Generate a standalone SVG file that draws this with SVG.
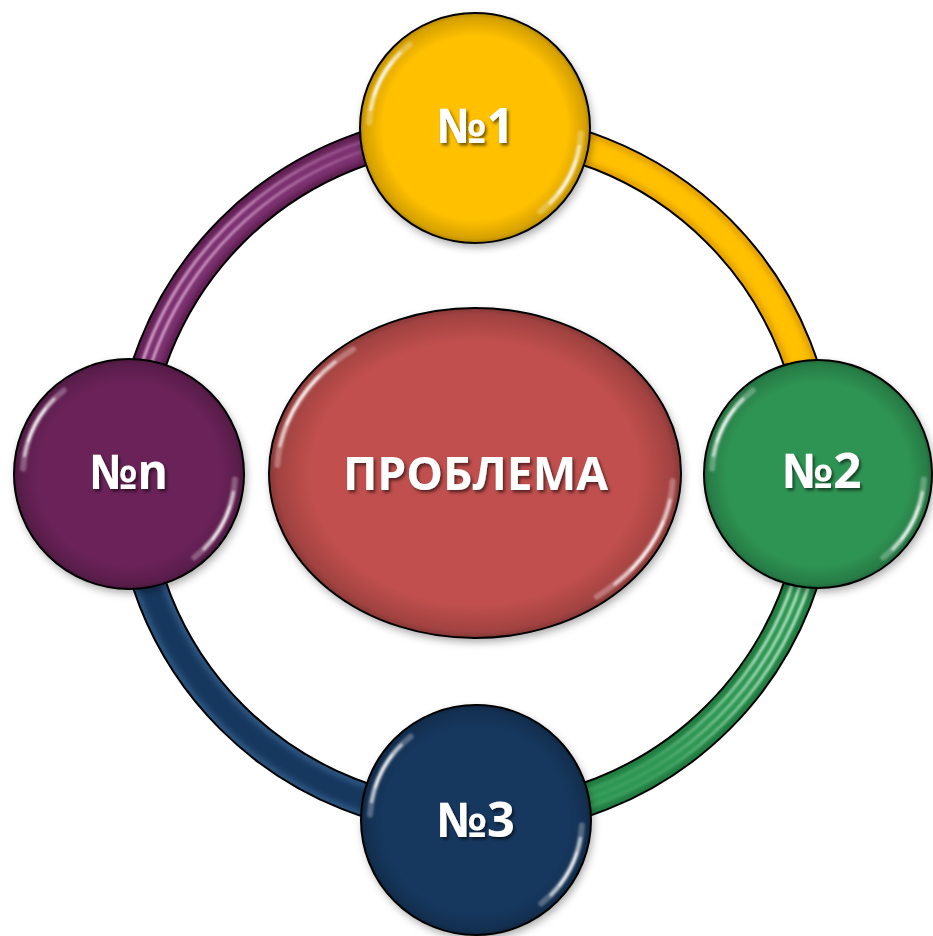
<svg xmlns="http://www.w3.org/2000/svg" width="933" height="936" viewBox="0 0 933 936">
<style>
  .outline{fill:none;stroke:#000;stroke-width:35}
  .tube{fill:none;stroke-width:31}
  .core{fill:none;stroke-width:22;filter:url(#blur2)}
  .stripe{fill:none;stroke-width:2.6;filter:url(#blur1)}
  .nodeBase{stroke:none;filter:url(#shadow)}
  .rimShade{fill:url(#rim)}
  .edge{fill:none;stroke:#000;stroke-width:2}
  .lbl{font-family:"Open Sans","Liberation Sans",sans-serif;font-weight:bold;fill:#fff;text-anchor:middle;filter:url(#tshadow)}
  .g1{fill:none;stroke:#fff;stroke-width:6;stroke-opacity:0.28;stroke-linecap:round}
  .g2{fill:none;stroke:#fff;stroke-width:3.5;stroke-opacity:0.6;stroke-linecap:round}
  .g3{fill:none;stroke:#fff;stroke-width:2;stroke-opacity:0.95;stroke-linecap:round}
</style>
<defs>
  <filter id="shadow" x="-20%" y="-20%" width="140%" height="140%">
    <feDropShadow dx="2" dy="4" stdDeviation="4" flood-color="#000" flood-opacity="0.35"/>
  </filter>
  <filter id="blur1" x="-10%" y="-10%" width="120%" height="120%"><feGaussianBlur stdDeviation="1"/></filter>
  <filter id="blur2" x="-10%" y="-10%" width="120%" height="120%"><feGaussianBlur stdDeviation="2.5"/></filter>
  <filter id="glow" x="-20%" y="-20%" width="140%" height="140%"><feGaussianBlur stdDeviation="1"/></filter>
  <filter id="tshadow" x="-20%" y="-30%" width="140%" height="160%">
    <feDropShadow dx="2" dy="2.5" stdDeviation="1.5" flood-color="#000" flood-opacity="0.55"/>
  </filter>
  <radialGradient id="rim">
    <stop offset="0.8" stop-color="#000" stop-opacity="0"/>
    <stop offset="0.96" stop-color="#000" stop-opacity="0.16"/>
    <stop offset="1" stop-color="#000" stop-opacity="0.3"/>
  </radialGradient>
  <linearGradient id="gStripe" gradientUnits="userSpaceOnUse" x1="819" y1="474" x2="475" y2="818">
    <stop offset="0" stop-color="#e6fbec" stop-opacity="1"/>
    <stop offset="0.35" stop-color="#d4f4de" stop-opacity="0.8"/>
    <stop offset="0.65" stop-color="#c0ecd0" stop-opacity="0.15"/>
    <stop offset="1" stop-color="#c0ecd0" stop-opacity="0"/>
  </linearGradient>
  <linearGradient id="pStripe" gradientUnits="userSpaceOnUse" x1="131" y1="474" x2="475" y2="130">
    <stop offset="0" stop-color="#f0c6e6" stop-opacity="0.95"/>
    <stop offset="0.5" stop-color="#e6b2da" stop-opacity="0.75"/>
    <stop offset="0.85" stop-color="#d89ccc" stop-opacity="0.2"/>
    <stop offset="1" stop-color="#d89ccc" stop-opacity="0"/>
  </linearGradient>
  <g id="gloss" filter="url(#glow)">
    <path class="g1" d="M105.9,5.5 A106,106 0 0 1 65.3,83.5"/>
    <path class="g1" d="M-105.9,-5.5 A106,106 0 0 1 -65.3,-83.5"/>
    <path class="g2" d="M104.4,18.4 A106,106 0 0 1 75,75"/>
    <path class="g2" d="M-104.4,-18.4 A106,106 0 0 1 -75,-75"/>
    <path class="g3" d="M100.8,32.8 A106,106 0 0 1 83.5,65.3"/>
    <path class="g3" d="M-100.8,-32.8 A106,106 0 0 1 -83.5,-65.3"/>
  </g>
</defs>

<rect width="933" height="936" fill="#fff"/>

<g id="connectors">
  <!-- yellow: №1 to №2 -->
  <g id="arc-1-2">
    <path class="outline" d="M475,130 A344,344 0 0 1 819,474"/>
    <path class="tube" stroke="#E3A200" d="M475,130 A344,344 0 0 1 819,474"/>
    <path class="core" stroke="#FFC000" d="M475,130 A344,344 0 0 1 819,474"/>
  </g>
  <!-- green: №2 to №3 -->
  <g id="arc-2-3">
    <path class="outline" d="M819,474 A344,344 0 0 1 475,818"/>
    <path class="tube" stroke="#1F7A3F" d="M819,474 A344,344 0 0 1 475,818"/>
    <path class="core" stroke="#2F9753" d="M819,474 A344,344 0 0 1 475,818"/>
    <path class="stripe" stroke="url(#gStripe)" d="M827,474 A352,352 0 0 1 475,826"/>
    <path class="stripe" stroke="url(#gStripe)" d="M819,474 A344,344 0 0 1 475,818"/>
    <path class="stripe" stroke="url(#gStripe)" d="M811,474 A336,336 0 0 1 475,810"/>
  </g>
  <!-- navy: №3 to №n -->
  <g id="arc-3-n">
    <path class="outline" d="M475,818 A344,344 0 0 1 131,474"/>
    <path class="tube" stroke="#2D5580" d="M475,818 A344,344 0 0 1 131,474"/>
    <path class="core" stroke="#17375E" d="M475,818 A344,344 0 0 1 131,474"/>
  </g>
  <!-- purple: №n to №1 -->
  <g id="arc-n-1">
    <path class="outline" d="M131,474 A344,344 0 0 1 475,130"/>
    <path class="tube" stroke="#5E1E50" d="M131,474 A344,344 0 0 1 475,130"/>
    <path class="core" stroke="#7B3070" d="M131,474 A344,344 0 0 1 475,130"/>
    <path class="stripe" stroke="url(#pStripe)" d="M124,474 A351,351 0 0 1 475,123"/>
    <path class="stripe" stroke="url(#pStripe)" d="M133,474 A342,342 0 0 1 475,132"/>
  </g>
</g>

<g id="problem">
  <ellipse class="nodeBase" cx="475" cy="473" rx="206" ry="165" fill="#C0504D"/>
  <ellipse class="rimShade" cx="475" cy="473" rx="206" ry="165"/>
  <g transform="translate(475,473)" filter="url(#glow)">
    <path class="g1" d="M197.7,8.2 A198,157 0 0 1 121.9,123.7"/>
    <path class="g1" d="M-197.7,-8.2 A198,157 0 0 1 -121.9,-123.7"/>
    <path class="g2" d="M195,27.3 A198,157 0 0 1 140,111"/>
    <path class="g2" d="M-195,-27.3 A198,157 0 0 1 -140,-111"/>
    <path class="g3" d="M188.3,48.5 A198,157 0 0 1 156,96.7"/>
    <path class="g3" d="M-188.3,-48.5 A198,157 0 0 1 -156,-96.7"/>
  </g>
  <ellipse class="edge" cx="475" cy="473" rx="206" ry="165"/>
  <text class="lbl" x="475.5" y="490" font-size="46" textLength="265" lengthAdjust="spacingAndGlyphs">ПРОБЛЕМА</text>
</g>

<g id="node1">
  <circle class="nodeBase" cx="475" cy="128" r="115" fill="#FFC000"/>
  <circle class="rimShade" cx="475" cy="128" r="115"/>
  <use href="#gloss" transform="translate(475,128)"/>
  <circle class="edge" cx="475" cy="128" r="115"/>
  <text class="lbl" x="475.5" y="143" font-size="48" textLength="77" lengthAdjust="spacingAndGlyphs">№1</text>
</g>

<g id="node2">
  <circle class="nodeBase" cx="818" cy="474" r="114" fill="#2F9452"/>
  <circle class="rimShade" cx="818" cy="474" r="114"/>
  <use href="#gloss" transform="translate(818,474)"/>
  <circle class="edge" cx="818" cy="474" r="114"/>
  <text class="lbl" x="822" y="488" font-size="48" textLength="79" lengthAdjust="spacingAndGlyphs">№2</text>
</g>

<g id="node3">
  <circle class="nodeBase" cx="476" cy="820" r="115" fill="#17375E"/>
  <circle class="rimShade" cx="476" cy="820" r="115"/>
  <use href="#gloss" transform="translate(476,820)"/>
  <circle class="edge" cx="476" cy="820" r="115"/>
  <text class="lbl" x="476" y="837" font-size="48" textLength="78" lengthAdjust="spacingAndGlyphs">№3</text>
</g>

<g id="noden">
  <circle class="nodeBase" cx="129" cy="474" r="115" fill="#6B2458"/>
  <circle class="rimShade" cx="129" cy="474" r="115"/>
  <use href="#gloss" transform="translate(129,474)"/>
  <circle class="edge" cx="129" cy="474" r="115"/>
  <text class="lbl" x="129" y="489" font-size="48" textLength="78" lengthAdjust="spacingAndGlyphs">№n</text>
</g>
</svg>
